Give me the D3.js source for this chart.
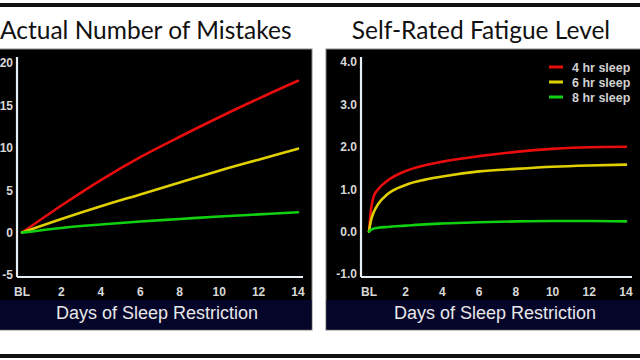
<!DOCTYPE html>
<html><head><meta charset="utf-8">
<script src="https://cdn.jsdelivr.net/npm/d3@7/dist/d3.min.js"></script>
<style>body{margin:0;background:#fff}svg{display:block}</style>
</head><body>
<svg id="c" width="640" height="360"></svg>
<script>
// ---- data ----
const xTicks = [0, 2, 4, 6, 8, 10, 12, 14];
const xTickLabels = ["BL", "2", "4", "6", "8", "10", "12", "14"];
const seriesNames = ["4 hr sleep", "6 hr sleep", "8 hr sleep"];

const mistakeDays = [0, 2, 4, 6, 8, 10, 12, 14];
const mistakes4 = [0, 3.2, 6.2, 8.9, 11.3, 13.6, 15.8, 17.9];
const mistakes6 = [0, 1.6, 3.1, 4.5, 5.9, 7.3, 8.6, 9.9];
const mistakes8 = [0, 0.55, 0.95, 1.3, 1.6, 1.9, 2.15, 2.4];
const mistakeTicks = [-5, 0, 5, 10, 15, 20];

const fatigueDays = [0, 0.1, 0.25, 0.5, 1, 2, 3, 4, 6, 8, 10, 12, 14];
const fatigue4 = [0, 0.5, 0.82, 1.0, 1.2, 1.43, 1.56, 1.65, 1.78, 1.88, 1.95, 1.99, 2.0];
const fatigue6 = [0, 0.25, 0.45, 0.65, 0.88, 1.1, 1.22, 1.3, 1.42, 1.48, 1.53, 1.56, 1.58];
const fatigue8 = [0, 0.04, 0.07, 0.09, 0.11, 0.14, 0.17, 0.19, 0.22, 0.24, 0.25, 0.25, 0.24];
const fatigueTicks = [-1, 0, 1, 2, 3, 4];

const colors = ["#e80c0c", "#e0d000", "#10d010"];

const svg = d3.select("#c");
// frame lines
svg.append("rect").attr("x",0).attr("y",3).attr("width",640).attr("height",4).attr("fill","#111");
svg.append("rect").attr("x",0).attr("y",354).attr("width",640).attr("height",4).attr("fill","#111");

function panel(o){
  const g = svg.append("g");
  g.append("rect").attr("x",o.bx).attr("y",49).attr("width",o.bw).attr("height",281)
    .attr("fill","#000").attr("stroke","#888").attr("stroke-width",1);
  g.append("rect").attr("x",o.bx+0.5).attr("y",300).attr("width",o.bw-1).attr("height",29.5)
    .attr("fill","#05052a");
  g.append("text").attr("x",o.tx).attr("y",39).attr("text-anchor",o.tanchor)
    .attr("font-family","Lato, 'Open Sans', sans-serif").attr("font-size",o.tsize).attr("fill","#111")
    .text(o.title);
  const x = d3.scaleLinear().domain([0,14]).range(o.xr);
  const y = d3.scaleLinear().domain(o.yd).range([o.y0, o.y1]);
  // axes lines
  g.append("line").attr("x1",o.ax).attr("x2",o.ax).attr("y1",57).attr("y2",277)
    .attr("stroke","#e6eef6").attr("stroke-width",2.2);
  g.append("line").attr("x1",o.ax).attr("x2",o.axEnd).attr("y1",277).attr("y2",277)
    .attr("stroke","#e6eef6").attr("stroke-width",2.2);
  // y tick labels
  g.selectAll(".yt").data(o.yticks).enter().append("text")
    .attr("x",o.ax-4).attr("y",d=>y(d)).attr("dy","0.36em").attr("text-anchor","end")
    .attr("font-family","'Liberation Sans', Arial, sans-serif").attr("font-weight","bold")
    .attr("font-size",12).attr("fill","#d8d8d8").text(o.yfmt);
  // x tick labels
  g.selectAll(".xt").data(xTicks).enter().append("text")
    .attr("x",d=>x(d)).attr("y",296).attr("text-anchor","middle")
    .attr("font-family","'Liberation Sans', Arial, sans-serif").attr("font-weight","bold")
    .attr("font-size",12).attr("fill","#d8d8d8").text((d,i)=>xTickLabels[i]);
  // x title
  g.append("text").attr("x",o.xtx).attr("y",319).attr("text-anchor","middle")
    .attr("font-family","'Liberation Sans', Arial, sans-serif")
    .attr("font-size",18).attr("fill","#e8e8e8").text("Days of Sleep Restriction");
  // lines
  const line = d3.line().x((d,i)=>x(o.days[i])).y(d=>y(d)).curve(d3.curveMonotoneX);
  o.series.forEach((s,k)=>{
    g.append("path").attr("d",line(s)).attr("fill","none").attr("stroke",colors[k])
      .attr("stroke-width",2.6).attr("stroke-linecap","round");
  });
  return g;
}

panel({bx:-1, bw:313, title:"Actual Number of Mistakes", tx:0, tanchor:"start", tsize:24.5,
  xr:[22,298], yd:[-5,20], y0:275, y1:63, ax:17, axEnd:303, yticks:mistakeTicks, yfmt:d=>String(d),
  xtx:157, days:mistakeDays, series:[mistakes4, mistakes6, mistakes8]});

const rp = panel({bx:326, bw:315, title:"Self-Rated Fatigue Level", tx:481, tanchor:"middle", tsize:24.5,
  xr:[369,626], yd:[-1,4], y0:274, y1:62, ax:361, axEnd:632, yticks:fatigueTicks, yfmt:d=>d.toFixed(1),
  xtx:495, days:fatigueDays, series:[fatigue4, fatigue6, fatigue8]});

// legend
const leg = rp.selectAll(".lg").data(seriesNames).enter().append("g")
  .attr("transform",(d,i)=>`translate(549,${67+i*15})`);
leg.append("line").attr("x1",0).attr("x2",14).attr("stroke",(d,i)=>colors[i]).attr("stroke-width",3);
leg.append("text").attr("x",23).attr("dy","0.36em")
  .attr("font-family","'Liberation Sans', Arial, sans-serif").attr("font-weight","bold")
  .attr("font-size",12.5).attr("fill","#d0d0d0").text(d=>d);
</script>
</body></html>
